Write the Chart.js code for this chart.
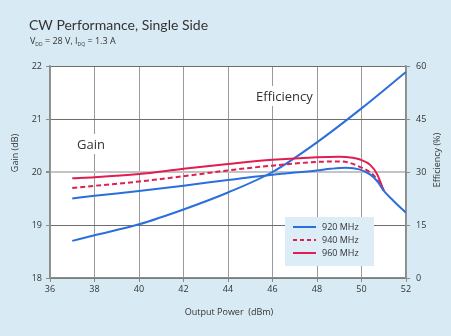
<!DOCTYPE html>
<html>
<head>
<meta charset="utf-8">
<script src="https://cdn.jsdelivr.net/npm/chart.js@4"></script>
<style>
	html, body { margin: 0; padding: 0; background: #d8ebf5; }
	#wrap { width: 451px; height: 336px; }
</style>
</head>
<body>
<div id="wrap"><canvas id="cw_chart" width="451" height="336"></canvas></div>
<script>
// Output power (dBm) and values
const gain_920_x = [37, 38, 40, 42, 44, 46, 48, 48.6, 49.3, 49.9, 50.4, 50.7, 51.0, 51.5, 52]
const gain_920 = [19.5, 19.55, 19.64, 19.74, 19.85, 19.95, 20.03, 20.06, 20.08, 20.05, 19.95, 19.83, 19.65, 19.43, 19.23]
const gain_940_x = [37, 38, 40, 42, 44, 46, 48, 49, 49.4, 49.9, 50.4, 50.7, 51.0]
const gain_940 = [19.7, 19.74, 19.82, 19.92, 20.03, 20.12, 20.19, 20.2, 20.18, 20.1, 19.99, 19.86, 19.65]
const gain_960_x = [37, 38, 40, 42, 44, 46, 48, 49, 49.6, 49.9, 50.4, 50.7, 51.0]
const gain_960 = [19.88, 19.9, 19.96, 20.06, 20.15, 20.23, 20.28, 20.29, 20.27, 20.24, 20.13, 19.96, 19.65]
const eff_x = [37, 38, 40, 42, 44, 46, 48, 50, 52]
const efficiency = [10.5, 12.1, 15.2, 19.4, 24.2, 30, 38.4, 48, 58.3]

const legend_labels = ['920 MHz', '940 MHz', '960 MHz']
const x_ticks = [36, 38, 40, 42, 44, 46, 48, 50, 52]
const gain_ticks = [18, 19, 20, 21, 22]
const eff_ticks = [0, 15, 30, 45, 60]

const blue = '#2a6fdc'
const red = '#e01e50'
const text_color = '#333333'
const font_family = '"Open Sans", "Noto Sans", sans-serif'

const pts = (xs, ys) => xs.map((x, i) => ({ x: x, y: ys[i] }))

// draws title, subtitle, inline labels, axis titles and legend box
const annotations = {
	id: 'annotations',
	beforeDraw(chart) {
		const c = chart.ctx
		const a = chart.chartArea
		c.save()
		c.fillStyle = '#ffffff'
		c.fillRect(a.left, a.top, a.right - a.left, a.bottom - a.top)
		c.restore()
	},
	afterDraw(chart) {
		const c = chart.ctx
		c.save()
		c.fillStyle = text_color
		c.textBaseline = 'alphabetic'
		c.textAlign = 'left'
		c.font = '14px Lato, ' + font_family
		c.fillText('CW Performance, Single Side', 29, 30)

		// subtitle with subscripts
		let x = 30
		const y = 44
		const part = (txt, size, dy) => {
			c.font = size + 'px ' + font_family
			c.fillText(txt, x, y + dy)
			x += c.measureText(txt).width
		}
		part('V', 9, 0)
		part('DD', 5, 2)
		part(' = 28 V, I', 9, 0)
		part('DQ', 5, 2)
		part(' = 1.3 A', 9, 0)

		// inline labels on white patches
		c.font = '13px ' + font_family
		const label = (txt, lx, ly) => {
			const w = c.measureText(txt).width
			c.fillStyle = '#ffffff'
			c.fillRect(lx - 4, ly - 15, w + 8, 20)
			c.fillStyle = text_color
			c.fillText(txt, lx, ly)
		}
		label('Gain', 77, 149)
		label('Efficiency', 256, 101)

		// axis titles
		c.font = '9px ' + font_family
		c.textAlign = 'center'
		c.textBaseline = 'middle'
		c.fillText('Output Power  (dBm)', 229, 312)
		c.save()
		c.translate(15, 153)
		c.rotate(-Math.PI / 2)
		c.fillText('Gain (dB)', 0, 0)
		c.restore()
		c.save()
		c.translate(437, 160)
		c.rotate(-Math.PI / 2)
		c.fillText('Efficiency (%)', 0, 0)
		c.restore()

		// legend
		c.fillStyle = '#dcedf8'
		c.fillRect(285, 217, 89, 49)
		const styles = [
			{ color: blue, dash: [] },
			{ color: red, dash: [4, 3] },
			{ color: red, dash: [] },
		]
		c.textAlign = 'left'
		legend_labels.forEach((lbl, i) => {
			const ly = 227 + i * 13
			c.strokeStyle = styles[i].color
			c.lineWidth = 2
			c.setLineDash(styles[i].dash)
			c.beginPath()
			c.moveTo(293, ly)
			c.lineTo(316, ly)
			c.stroke()
			c.setLineDash([])
			c.fillStyle = text_color
			c.fillText(lbl, 322, ly)
		})
		c.restore()
	},
}

const line = (data, color, axis, dash) => ({
	data: data,
	borderColor: color,
	backgroundColor: color,
	borderWidth: 2,
	borderDash: dash || [],
	pointRadius: 0,
	cubicInterpolationMode: 'monotone',
	yAxisID: axis,
})

// eslint-disable-next-line
const cw_chart = new Chart(document.getElementById('cw_chart'), {
	type: 'line',
	data: {
		datasets: [
			line(pts(gain_920_x, gain_920), blue, 'y'),
			line(pts(gain_940_x, gain_940), red, 'y', [5, 3]),
			line(pts(gain_960_x, gain_960), red, 'y'),
			line(pts(eff_x, efficiency), blue, 'y2'),
		],
	},
	plugins: [annotations],
	options: {
		responsive: false,
		animation: false,
		events: [],
		layout: { padding: { top: 66, left: 0, right: 0, bottom: 0 } },
		plugins: {
			legend: { display: false },
			tooltip: { enabled: false },
		},
		scales: {
			x: {
				type: 'linear',
				min: 36,
				max: 52,
				afterBuildTicks: (s) => { s.ticks = x_ticks.map((v) => ({ value: v })) },
				afterFit: (s) => { s.height = 58 },
				border: { color: '#8c8c8c', width: 1.5 },
				grid: { color: '#9a9a9a', lineWidth: 1, tickLength: 4, tickColor: '#8c8c8c' },
				ticks: { color: text_color, font: { size: 9, family: font_family }, padding: 2, maxRotation: 0 },
			},
			y: {
				position: 'left',
				min: 18,
				max: 22,
				afterBuildTicks: (s) => { s.ticks = gain_ticks.map((v) => ({ value: v })) },
				afterFit: (s) => { s.width = 50 },
				border: { color: '#8c8c8c', width: 1.5 },
				grid: {
					color: (ctx) => (ctx.tick && ctx.tick.value === 20 ? '#c4c4c4' : '#6e6e6e'),
					lineWidth: (ctx) => (ctx.tick && ctx.tick.value === 20 ? 2 : 1),
					tickLength: 4,
					tickColor: '#8c8c8c',
				},
				ticks: { color: text_color, font: { size: 9, family: font_family }, padding: 4 },
			},
			y2: {
				position: 'right',
				min: 0,
				max: 60,
				afterBuildTicks: (s) => { s.ticks = eff_ticks.map((v) => ({ value: v })) },
				afterFit: (s) => { s.width = 45 },
				border: { color: '#8c8c8c', width: 1.5 },
				grid: { drawOnChartArea: false, tickLength: 4, tickColor: '#8c8c8c' },
				ticks: { color: text_color, font: { size: 9, family: font_family }, padding: 6 },
			},
		},
	},
})
</script>
</body>
</html>
